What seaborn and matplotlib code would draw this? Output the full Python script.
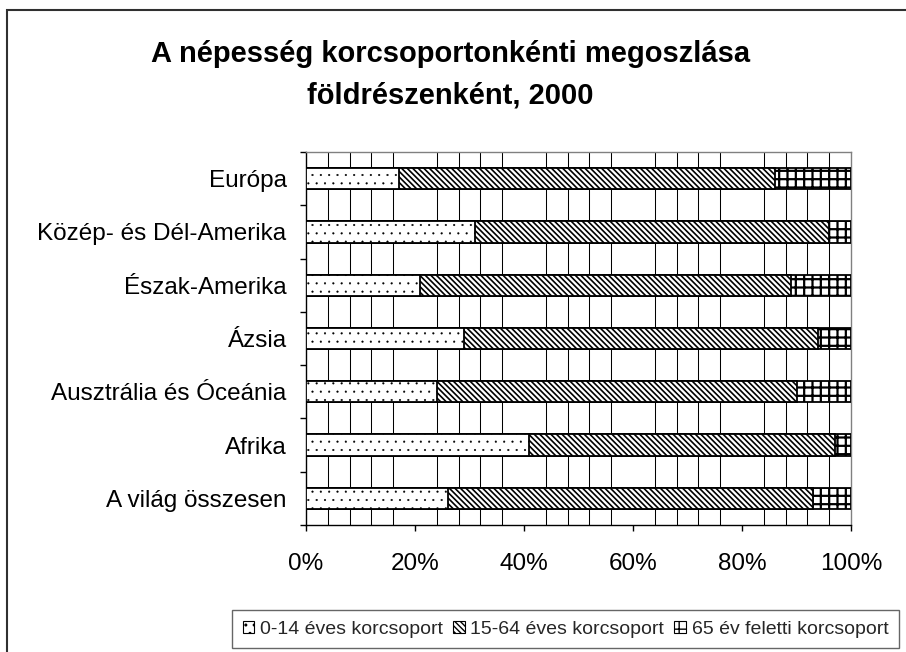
import numpy as np
import pandas as pd
import matplotlib
matplotlib.use('Agg')
import matplotlib.pyplot as plt
from matplotlib.patches import Patch, Rectangle
import seaborn as sns

# data (percent of population)
regions = ['Európa', 'Közép- és Dél-Amerika', 'Észak-Amerika', 'Ázsia',
           'Ausztrália és Óceánia', 'Afrika', 'A világ összesen']
age_0_14 = [17, 31, 21, 29, 24, 41, 26]
age_15_64 = [69, 65, 68, 65, 66, 56, 67]
age_65 = [14, 4, 11, 6, 10, 3, 7]
series_labels = ['0-14 éves korcsoport', '15-64 éves korcsoport', '65 év feletti korcsoport']
x_ticks = [0, 20, 40, 60, 80, 100]

sns.set_theme(style='white')
plt.rcParams['font.family'] = ['Liberation Sans', 'DejaVu Sans']

df = pd.DataFrame({'region': regions, 'a': age_0_14, 'b': age_15_64, 'c': age_65})
df['cum_b'] = df['a'] + df['b']
df['cum_c'] = df['cum_b'] + df['c']

fig = plt.figure(figsize=(9.06, 6.52), dpi=100)
ax = fig.add_axes([306 / 906, 1 - 525 / 652, 545 / 906, 373 / 652])

hatches = ['..', '\\' * 6, '++']
hatch_lw = [0.3, 1.2, 1.6]


def set_hlw(patch, lw):
    try:
        patch.set_hatch_linewidth(lw)
    except AttributeError:
        pass


# stacked bars: draw the totals first, then overlay the shorter segments
for col, h, hl in zip(['cum_c', 'cum_b', 'a'], hatches[::-1], hatch_lw[::-1]):
    plt.rcParams['hatch.linewidth'] = hl
    n_before = len(ax.patches)
    sns.barplot(data=df, x=col, y='region', orient='h', ax=ax, width=0.4,
                color='white', edgecolor='black', linewidth=1.3, hatch=h,
                saturation=1, zorder=3)
    for p in ax.patches[n_before:]:
        set_hlw(p, hl)
plt.rcParams['hatch.linewidth'] = 1.0

ax.set_xlim(0, 100)
ax.set_ylim(6.5, -0.5)
ax.set_xlabel('')
ax.set_ylabel('')

ax.set_xticks(x_ticks)
ax.set_xticklabels([f'{t}%' for t in x_ticks], fontsize=17.5)
ax.set_xticks(np.arange(0, 101, 4), minor=True)
ax.grid(True, which='minor', axis='x', color='black', linewidth=0.75)
ax.grid(False, which='major')
ax.set_axisbelow(True)

ax.set_yticks(range(len(regions)))
ax.set_yticklabels(regions, fontsize=17.5)
ax.set_yticks(np.arange(-0.5, len(regions)), minor=True)

ax.tick_params(axis='x', which='major', bottom=True, length=4, width=1, color='black',
               direction='out', pad=16, labelcolor='black')
ax.tick_params(axis='x', which='minor', bottom=False, length=0)
ax.tick_params(axis='y', which='major', left=False, length=0, pad=14, labelcolor='black')
ax.tick_params(axis='y', which='minor', left=True, length=4, width=1, color='black',
               direction='out')

for side in ['left', 'bottom']:
    ax.spines[side].set_color('black')
    ax.spines[side].set_linewidth(1.0)
for side in ['top', 'right']:
    ax.spines[side].set_color('#808080')
    ax.spines[side].set_linewidth(1.0)

fig.text(0.497, 1 - 62 / 652, 'A népesség korcsoportonkénti megoszlása',
         ha='center', va='baseline', fontsize=21, fontweight='bold', color='black')
fig.text(0.497, 1 - 103 / 652, 'földrészenként, 2000',
         ha='center', va='baseline', fontsize=21, fontweight='bold', color='black')

handles = []
for h, hl in zip(hatches, hatch_lw):
    plt.rcParams['hatch.linewidth'] = hl
    p = Patch(facecolor='white', edgecolor='black', hatch=h, linewidth=0.8)
    set_hlw(p, hl)
    handles.append(p)
plt.rcParams['hatch.linewidth'] = 1.0

leg = fig.legend(handles, series_labels, ncol=3, loc='upper left',
                 bbox_to_anchor=(232 / 906, 1 - 610 / 652), bbox_transform=fig.transFigure,
                 fontsize=14, frameon=True, fancybox=False, borderaxespad=0,
                 handlelength=0.6, handleheight=0.6, handletextpad=0.3,
                 columnspacing=0.5, borderpad=0.55)
leg.get_frame().set_edgecolor('#404040')
leg.get_frame().set_linewidth(1.0)

# outer chart frame
fig.add_artist(Rectangle((7 / 906, -0.2), 1.0, 1 - 10 / 652 + 0.2, transform=fig.transFigure,
                         fill=False, edgecolor='#303030', linewidth=1.5, clip_on=False))

fig.savefig('out.png', dpi=100)
